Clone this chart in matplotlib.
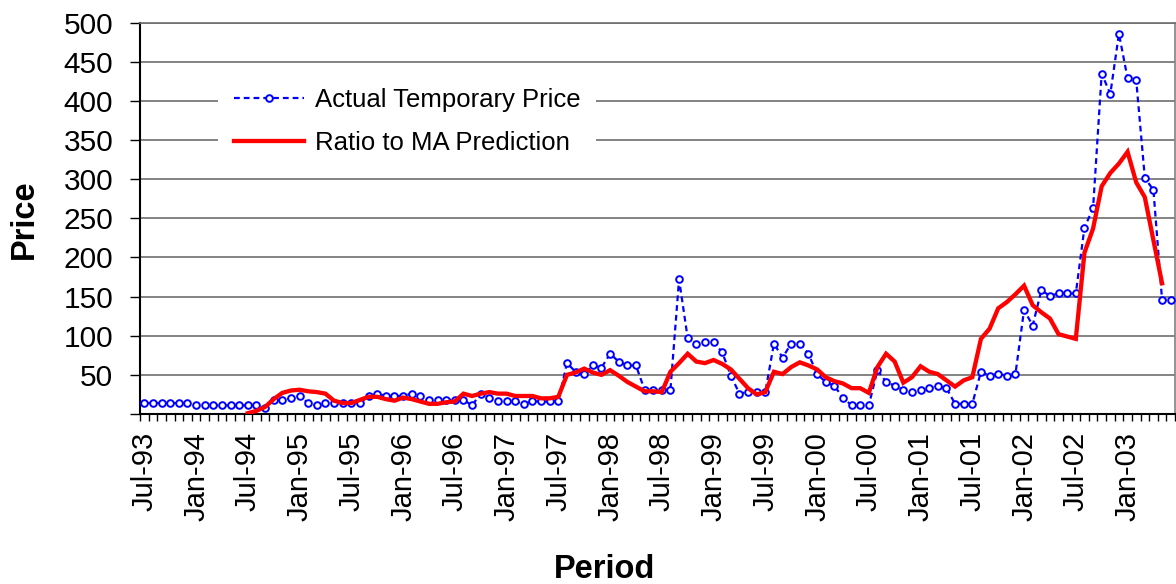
import numpy as np
import matplotlib
matplotlib.use("Agg")
import matplotlib.pyplot as plt

plt.rcParams['font.family'] = ['Liberation Sans', 'DejaVu Sans']

# ---- data (monthly, Jul-93 .. Jun-03) ----
tick_labels = ['Jul-93', 'Jan-94', 'Jul-94', 'Jan-95', 'Jul-95', 'Jan-96', 'Jul-96',
               'Jan-97', 'Jul-97', 'Jan-98', 'Jul-98', 'Jan-99', 'Jul-99', 'Jan-00',
               'Jul-00', 'Jan-01', 'Jul-01', 'Jan-02', 'Jul-02', 'Jan-03']

actual_price = [
    14, 14, 14, 14, 14, 14, 11, 11, 11, 11, 11, 11,          # Jul-93 .. Jun-94
    11, 11, 8, 18, 18, 20, 23, 14, 11, 14, 14, 14,           # Jul-94 .. Jun-95
    14, 14, 23, 26, 23, 23, 23, 26, 23, 18, 18, 18,          # Jul-95 .. Jun-96
    18, 18, 11, 26, 21, 16, 16, 16, 13, 16, 16, 16,          # Jul-96 .. Jun-97
    16, 65, 54, 51, 62, 59, 77, 67, 62, 62, 31, 31,          # Jul-97 .. Jun-98
    31, 31, 172, 97, 90, 92, 92, 79, 49, 26, 28, 28,         # Jul-98 .. Jun-99
    28, 90, 72, 90, 90, 77, 51, 41, 36, 21, 11, 11,          # Jul-99 .. Jun-00
    11, 56, 41, 36, 31, 28, 31, 33, 36, 33, 13, 13,          # Jul-00 .. Jun-01
    13, 54, 49, 51, 49, 51, 133, 113, 158, 151, 154, 154,    # Jul-01 .. Jun-02
    154, 238, 263, 435, 409, 486, 429, 427, 302, 286, 146, 146,  # Jul-02 .. Jun-03
]

nan = np.nan
ma_prediction = [
    nan, nan, nan, nan, nan, nan, nan, nan, nan, nan, nan, nan,
    1, 4, 9, 19, 27, 30, 31, 29, 28, 26, 17, 14,
    14, 18, 22, 22, 19, 17, 21, 19, 16, 13, 13, 15,
    16, 26, 23, 26, 28, 26, 26, 23, 23, 23, 20, 20,
    22, 50, 53, 58, 53, 50, 56, 49, 41, 35, 29, 29,
    28, 54, 65, 77, 67, 65, 69, 64, 57, 45, 33, 25,
    28, 54, 51, 60, 66, 62, 57, 47, 42, 39, 33, 33,
    27, 60, 77, 67, 40, 47, 61, 54, 51, 43, 35, 43,
    47, 96, 109, 135, 143, 153, 164, 139, 130, 122, 102, 99,
    96, 206, 237, 291, 308, 320, 335, 296, 277, 222, 167, nan,
]

series_names = ['Actual Temporary Price', 'Ratio to MA Prediction']

# ---- figure ----
W, H = 1176, 584
fig = plt.figure(figsize=(W / 100, H / 100), dpi=100)
L, R, T, B = 140, 1175, 22.7, 414
ax = fig.add_axes([L / W, 1 - B / H, (R - L) / W, (B - T) / H])

x = np.arange(len(actual_price))

ax.plot(x, actual_price, color='#0000FF', lw=1.6, ls=(0, (2.6, 1.8)),
        marker='o', ms=4.8, mfc='white', mec='#0000FF', mew=1.4,
        label=series_names[0], zorder=3)
ax.plot(x, ma_prediction, color='#FF0000', lw=3.1, solid_joinstyle='miter',
        label=series_names[1], zorder=4)

ax.set_xlim(-0.5, len(actual_price) - 0.5)
ax.set_ylim(0, 500)

# y axis
yt = list(range(0, 501, 50))
ax.set_yticks(yt)
ax.set_yticklabels([''] + [str(v) for v in yt[1:]], fontsize=21.5)
ax.tick_params(axis='y', direction='out', length=7.2, width=1.0, pad=12, colors='black')
ax.yaxis.grid(True, color='#6e6e6e', lw=1.2)
ax.set_axisbelow(True)

# x axis
ax.set_xticks(np.arange(0, len(actual_price), 6))
ax.set_xticklabels(tick_labels, rotation=90, fontsize=21)
ax.set_xticks(np.arange(-0.5, len(actual_price), 1), minor=True)
ax.tick_params(axis='x', which='major', length=0, pad=13)
ax.tick_params(axis='x', which='minor', direction='out', length=5, width=1.0, color='black')

for s in ['left', 'bottom']:
    ax.spines[s].set_color('black')
    ax.spines[s].set_linewidth(1.5)
ax.spines['right'].set_color('#808080')
ax.spines['right'].set_linewidth(1.2)
ax.spines['top'].set_color('#6e6e6e')
ax.spines['top'].set_linewidth(1.2)

# axis titles
fig.text(24 / W, 1 - 219 / H, 'Price', rotation=90, fontsize=23.5, fontweight='bold',
         ha='center', va='center')
fig.text(605 / W, 1 - 570 / H, 'Period', fontsize=23.5, fontweight='bold',
         ha='center', va='center')

leg = ax.legend(loc='center', bbox_to_anchor=(407 / W, 1 - 121.5 / H),
                bbox_transform=fig.transFigure, fontsize=18.5, frameon=True,
                framealpha=1, facecolor='white', edgecolor='none', fancybox=False,
                handlelength=2.75, handletextpad=0.4, labelspacing=0.72,
                borderpad=0.6, numpoints=1)

fig.savefig('out.png', dpi=100)
